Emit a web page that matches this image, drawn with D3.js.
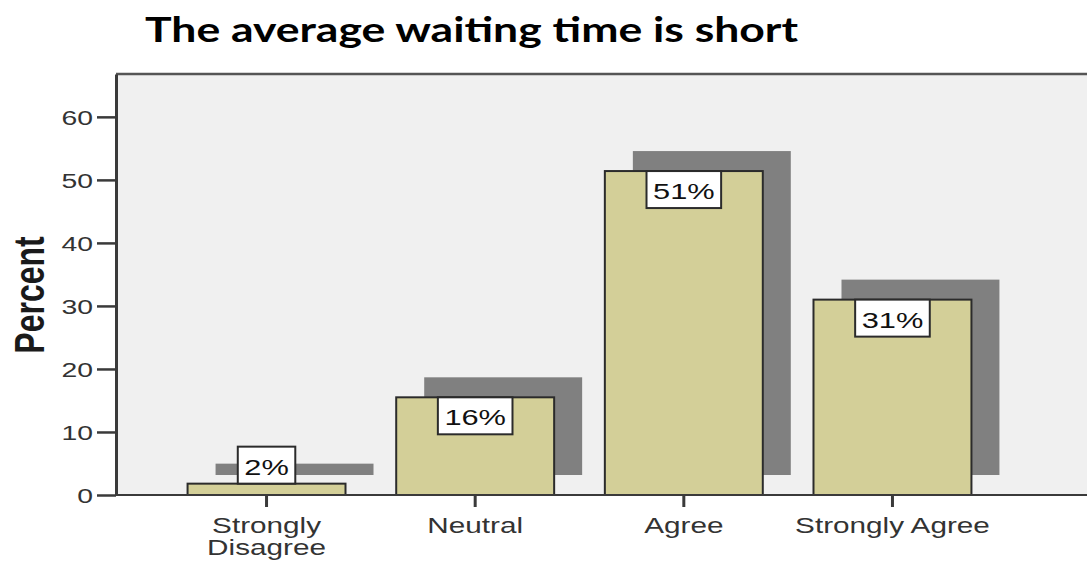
<!DOCTYPE html>
<html>
<head>
<meta charset="utf-8">
<script src="https://cdn.jsdelivr.net/npm/d3@7"></script>
<style>
  body { margin: 0; background: #fff; }
  text { font-family: "Liberation Sans", Arial, sans-serif; }
</style>
</head>
<body>
<script>
// chart data
var categories = ["Strongly Disagree", "Neutral", "Agree", "Strongly Agree"];
var percents = [1.8, 15.5, 51.4, 31.0];
var pctLabels = ["2%", "16%", "51%", "31%"];
var yTicks = [0, 10, 20, 30, 40, 50, 60];

var svgWidth = 1087;
var svgHeight = 561;

var plot = { left: 116, top: 74, right: 1110, bottom: 495 };
var stretch = 1.35;   // the original picture is stretched sideways

var svg = d3.select("body")
  .append("svg")
  .attr("width", svgWidth)
  .attr("height", svgHeight);

// scales
var x = d3.scaleBand()
  .domain(categories)
  .range([plot.left, 1043])
  .paddingInner(0.243)
  .paddingOuter(0.343);

var y = d3.scaleLinear()
  .domain([0, 66.8])
  .range([plot.bottom, plot.top]);

// title
svg.append("text")
  .attr("x", 145)
  .attr("y", 42)
  .attr("font-family", "Lato, 'Open Sans', sans-serif")
  .attr("font-weight", "bold")
  .attr("font-size", 35)
  .attr("textLength", 653)
  .attr("lengthAdjust", "spacingAndGlyphs")
  .attr("fill", "#000")
  .style("font-family", "Lato, sans-serif")
  .text("The average waiting time is short");

// plot background and frame
svg.append("rect")
  .attr("x", plot.left)
  .attr("y", plot.top)
  .attr("width", plot.right - plot.left)
  .attr("height", plot.bottom - plot.top)
  .attr("fill", "#f0f0f0");

svg.append("line")
  .attr("x1", plot.left).attr("x2", plot.right)
  .attr("y1", plot.top).attr("y2", plot.top)
  .attr("stroke", "#555")
  .attr("stroke-width", 2.5);

// shadow bars
svg.append("g")
  .selectAll("rect")
  .data(percents)
  .enter()
  .append("rect")
  .attr("x", (d, i) => x(categories[i]) + 28)
  .attr("y", d => y(d) - 20)
  .attr("width", x.bandwidth())
  .attr("height", d => y(0) - y(d))
  .attr("fill", "#808080");

// bars
svg.append("g")
  .selectAll("rect")
  .data(percents)
  .enter()
  .append("rect")
  .attr("x", (d, i) => x(categories[i]))
  .attr("y", d => y(d))
  .attr("width", x.bandwidth())
  .attr("height", d => y(0) - y(d))
  .attr("fill", "#d3cf98")
  .attr("stroke", "#2b2b2b")
  .attr("stroke-width", 2);

// y axis
var yAxis = svg.append("g")
  .attr("transform", `translate(${plot.left}, 0)`)
  .call(d3.axisLeft(y).tickValues(yTicks).tickSize(19).tickSizeOuter(0));

yAxis.select(".domain").attr("stroke", "#3a3a3a").attr("stroke-width", 3);
yAxis.selectAll(".tick line").attr("stroke", "#3a3a3a").attr("stroke-width", 2.5);
yAxis.selectAll(".tick text")
  .attr("x", 0)
  .attr("dy", "0.36em")
  .attr("transform", `translate(-23, 0) scale(${stretch}, 1)`)
  .attr("font-size", 21)
  .attr("font-family", "Liberation Sans, Arial, sans-serif")
  .attr("fill", "#333");

// y axis title
svg.append("text")
  .attr("transform", `translate(44, 295) scale(${stretch}, 1) rotate(-90)`)
  .attr("text-anchor", "middle")
  .attr("font-size", 32)
  .attr("font-weight", "bold")
  .attr("fill", "#1a1a1a")
  .text("Percent");

// x axis
var xAxis = svg.append("g")
  .attr("transform", `translate(0, ${plot.bottom})`)
  .call(d3.axisBottom(x).tickSize(12).tickSizeOuter(0));

xAxis.select(".domain").remove();
xAxis.selectAll(".tick line").attr("stroke", "#3a3a3a").attr("stroke-width", 3);
xAxis.selectAll(".tick text").remove();

svg.append("line")
  .attr("x1", plot.left).attr("x2", plot.right)
  .attr("y1", plot.bottom).attr("y2", plot.bottom)
  .attr("stroke", "#3a3a3a")
  .attr("stroke-width", 2);

// category labels, wrapped when wider than a band step
xAxis.selectAll(".tick").each(function(c) {
  var t = d3.select(this).append("text")
    .attr("transform", `translate(0, 38) scale(${stretch}, 1)`)
    .attr("text-anchor", "middle")
    .attr("font-size", 22)
    .attr("fill", "#333")
    .text(c);
  if (t.node().getComputedTextLength() * stretch > x.step()) {
    var words = c.split(" ");
    t.text(null);
    words.forEach(function(w, i) {
      t.append("tspan").attr("x", 0).attr("dy", i === 0 ? 0 : 22).text(w);
    });
  }
});

// percent labels in white boxes
var boxH = 37;
var labels = svg.append("g")
  .selectAll("g")
  .data(percents)
  .enter()
  .append("g")
  .attr("transform", function(d, i) {
    var cx = x(categories[i]) + x.bandwidth() / 2;
    var top = (y(0) - y(d) > boxH) ? y(d) : y(d) - boxH;
    return `translate(${cx}, ${top})`;
  });

labels.append("rect").attr("class", "box");

labels.append("text")
  .attr("transform", `scale(1.4, 1)`)
  .attr("y", 28)
  .attr("text-anchor", "middle")
  .attr("font-size", 22)
  .attr("fill", "#111")
  .text((d, i) => pctLabels[i]);

labels.each(function() {
  var g = d3.select(this);
  var w = g.select("text").node().getComputedTextLength() * 1.4 + 13;
  g.select("rect")
    .attr("x", -w / 2)
    .attr("y", 0)
    .attr("width", w)
    .attr("height", boxH)
    .attr("fill", "#fff")
    .attr("stroke", "#2b2b2b")
    .attr("stroke-width", 2);
});
</script>
</body>
</html>
